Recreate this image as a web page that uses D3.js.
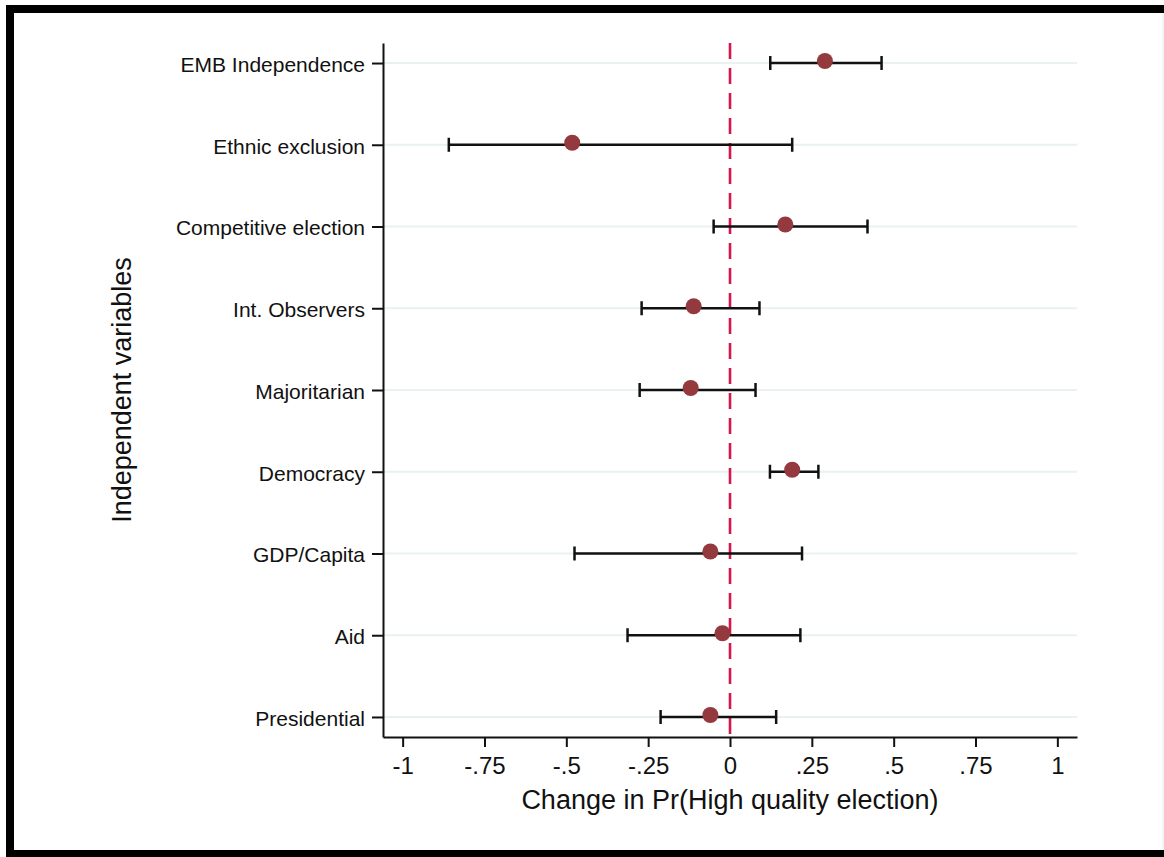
<!DOCTYPE html>
<html>
<head>
<meta charset="utf-8">
<script src="https://cdn.jsdelivr.net/npm/d3@7"></script>
<style>
  body { margin: 0; background: #fff; }
  svg text { font-family: "Liberation Sans", Arial, Helvetica, sans-serif; fill: #111; }
</style>
</head>
<body>
<div class="canvas"></div>
<script>
// data
const variables = ['EMB Independence', 'Ethnic exclusion', 'Competitive election', 'Int. Observers',
    'Majoritarian', 'Democracy', 'GDP/Capita', 'Aid', 'Presidential'];
const estimates = [0.29, -0.482, 0.169, -0.111, -0.12, 0.19, -0.06, -0.023, -0.06];
const lower = [0.123, -0.859, -0.05, -0.27, -0.276, 0.122, -0.475, -0.313, -0.212];
const upper = [0.463, 0.19, 0.42, 0.09, 0.078, 0.27, 0.22, 0.215, 0.141];
const xTicks = [-1, -0.75, -0.5, -0.25, 0, 0.25, 0.5, 0.75, 1];
const xTickLabels = ['-1', '-.75', '-.5', '-.25', '0', '.25', '.5', '.75', '1'];

const dimension = { width: 1164, height: 857 };
const plot = { left: 383, right: 1077, top: 43, bottom: 737 };

const svg = d3.select('.canvas')
    .append('svg')
    .attr('width', dimension.width)
    .attr('height', dimension.height);

// black frame (top, left, bottom) like the screenshot
const frame = svg.append('g').attr('fill', '#000');
frame.append('rect').attr('x', 6).attr('y', 5).attr('width', 1158).attr('height', 8);
frame.append('rect').attr('x', 6).attr('y', 5).attr('width', 8).attr('height', 852);
frame.append('rect').attr('x', 6).attr('y', 850).attr('width', 1158).attr('height', 7);
svg.append('line')
    .attr('x1', 1163).attr('x2', 1163).attr('y1', 13).attr('y2', 850)
    .attr('stroke', '#e6edf0').attr('stroke-width', 1);

const x = d3.scaleLinear()
    .domain([-1.06, 1.06])
    .range([plot.left, plot.right]);

const y = d3.scalePoint()
    .domain(variables)
    .range([plot.top, plot.bottom])
    .padding(0.245);

const rows = variables.map((name, i) => ({
    name, est: estimates[i], lo: lower[i], hi: upper[i]
}));

// grid lines
svg.append('g')
    .selectAll('line')
    .data(variables)
    .enter().append('line')
        .attr('x1', plot.left).attr('x2', plot.right)
        .attr('y1', d => y(d)).attr('y2', d => y(d))
        .attr('stroke', '#e9f1f3')
        .attr('stroke-width', 2);

// reference line at zero
svg.append('line')
    .attr('x1', x(0)).attr('x2', x(0))
    .attr('y1', plot.top).attr('y2', plot.bottom)
    .attr('stroke', '#d5174b')
    .attr('stroke-width', 2.6)
    .attr('stroke-dasharray', '16,9');

// axes
const xAxis = d3.axisBottom(x)
    .tickValues(xTicks)
    .tickFormat((d, i) => xTickLabels[i])
    .tickSize(10)
    .tickPadding(10)
    .tickSizeOuter(0);

const xg = svg.append('g')
    .attr('transform', `translate(0, ${plot.bottom})`)
    .call(xAxis);
xg.select('.domain').attr('stroke', '#111').attr('stroke-width', 2);
xg.selectAll('.tick line').attr('stroke', '#111').attr('stroke-width', 2);
xg.selectAll('.tick text').attr('font-size', 24).attr('fill', '#111');

const yAxis = d3.axisLeft(y)
    .tickSize(11)
    .tickPadding(7)
    .tickSizeOuter(0);

const yg = svg.append('g')
    .attr('transform', `translate(${plot.left}, 0)`)
    .call(yAxis);
yg.select('.domain').attr('stroke', '#111').attr('stroke-width', 2);
yg.selectAll('.tick line').attr('stroke', '#111').attr('stroke-width', 2);
yg.selectAll('.tick text').attr('font-size', 21).attr('fill', '#111').attr('dy', '0.4em');

// axis titles
svg.append('text')
    .attr('x', 730).attr('y', 809)
    .attr('text-anchor', 'middle')
    .attr('font-size', 27)
    .text('Change in Pr(High quality election)');

svg.append('text')
    .attr('transform', 'translate(131, 390) rotate(-90)')
    .attr('text-anchor', 'middle')
    .attr('font-size', 27)
    .text('Independent variables');

// confidence intervals
const bars = svg.append('g')
    .selectAll('g')
    .data(rows)
    .enter().append('g')
        .attr('stroke', '#111')
        .attr('stroke-width', 2.5);

bars.append('line')
    .attr('x1', d => x(d.lo)).attr('x2', d => x(d.hi))
    .attr('y1', d => y(d.name)).attr('y2', d => y(d.name));
bars.append('line')
    .attr('x1', d => x(d.lo)).attr('x2', d => x(d.lo))
    .attr('y1', d => y(d.name) - 7).attr('y2', d => y(d.name) + 7);
bars.append('line')
    .attr('x1', d => x(d.hi)).attr('x2', d => x(d.hi))
    .attr('y1', d => y(d.name) - 7).attr('y2', d => y(d.name) + 7);

// point estimates
svg.append('g')
    .selectAll('circle')
    .data(rows)
    .enter().append('circle')
        .attr('cx', d => x(d.est))
        .attr('cy', d => y(d.name) - 2)
        .attr('r', 8)
        .attr('fill', '#943a3f');
</script>
</body>
</html>
